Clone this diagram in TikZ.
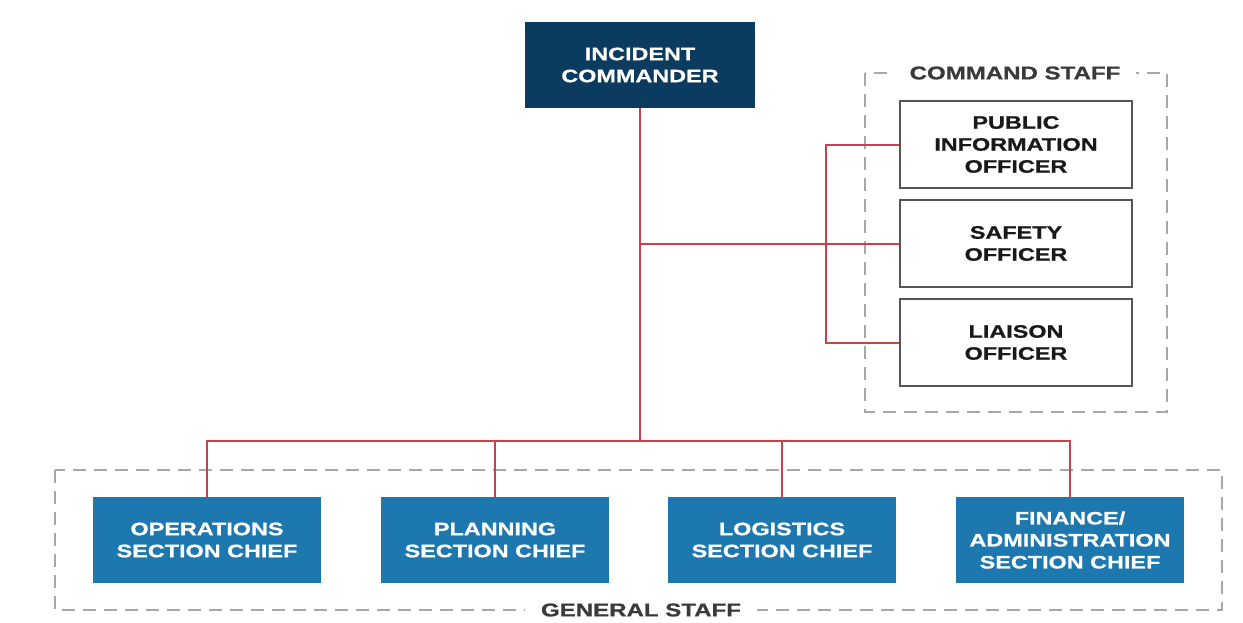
\documentclass[tikz,border=0pt]{standalone}
\usepackage{fontspec}
\setmainfont{Liberation Sans}[FakeStretch=1.3, BoldFeatures={FakeBold=0.8}]
\definecolor{navy}{HTML}{0C3B60}
\definecolor{secblue}{HTML}{1C78AE}
\definecolor{linkred}{HTML}{C8414D}
\definecolor{frame}{HTML}{A8A8A8}
\definecolor{boxgray}{HTML}{555555}
\definecolor{labelgray}{HTML}{3A3A3A}
\tikzset{
  base/.style={align=center, font=\fontsize{18}{22}\selectfont\bfseries, inner sep=0pt},
  icbox/.style={base, fill=navy, text=white, minimum width=230pt, minimum height=86pt},
  secbox/.style={base, fill=secblue, text=white, minimum width=228pt, minimum height=86pt},
  cmdbox/.style={base, draw=boxgray, line width=1.5pt, fill=white, text=black!90, minimum width=232pt, minimum height=87pt},
  link/.style={draw=linkred, line width=2pt},
  grpframe/.style={draw=frame, line width=1.3pt, dash pattern=on 13pt off 8pt},
  grplabel/.style={base, fill=white, text=labelgray, inner xsep=16pt, font=\fontsize{18.5}{22}\selectfont\bfseries},
}
\begin{document}
\begin{tikzpicture}[x=1pt,y=-1pt]
\useasboundingbox (0,0) rectangle (1243,622);
% group frames
\draw[grpframe] (865,73) rectangle (1167,412);
\node[grplabel] (cmdlabel) at (1015,73) {COMMAND STAFF};
\draw[grpframe] (55,470) rectangle (1222,610);
\node[grplabel] (genlabel) at (641,610) {GENERAL STAFF};
% nodes
\node[icbox] (ic) at (640,65) {INCIDENT\\COMMANDER};
\node[cmdbox] (pio) at (1016,144.5) {PUBLIC\\INFORMATION\\OFFICER};
\node[cmdbox] (saf) at (1016,243.5) {SAFETY\\OFFICER};
\node[cmdbox] (lia) at (1016,342.5) {LIAISON\\OFFICER};
\node[secbox] (ops) at (207,540) {OPERATIONS\\SECTION CHIEF};
\node[secbox] (plan) at (495,540) {PLANNING\\SECTION CHIEF};
\node[secbox] (log) at (782,540) {LOGISTICS\\SECTION CHIEF};
\node[secbox] (fin) at (1070,540) {FINANCE/\\ADMINISTRATION\\SECTION CHIEF};
% connectors
\coordinate (jl) at (207,441);
\coordinate (jr) at (1070,441);
\coordinate (cb) at (826,243.5);
\draw[link] (ic.south) -- (ic.south |- jl);
\draw[link] (ops.north) -- (jl) -- (jr) -- (fin.north);
\draw[link] (plan.north) -- (plan.north |- jl);
\draw[link] (log.north) -- (log.north |- jl);
\draw[link] (ic.south |- saf.west) -- (saf.west);
\draw[link] (pio.west) -| (cb) |- (lia.west);
\end{tikzpicture}
\end{document}
